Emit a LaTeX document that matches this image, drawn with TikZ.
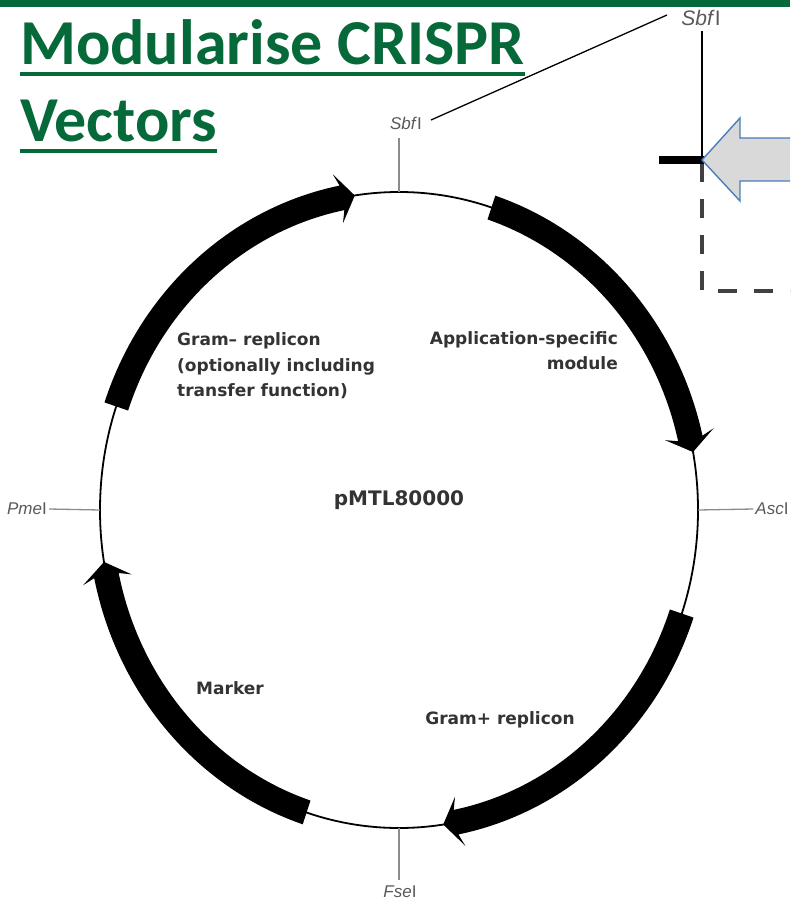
\documentclass[tikz,border=0pt]{standalone}
\usepackage{fontspec}
\setmainfont{Liberation Sans}
\newfontfamily\titlefont{Carlito}
\newfontfamily\labelfont{DejaVu Sans}
\usetikzlibrary{calc}
\definecolor{dgreen}{HTML}{05693A}
\definecolor{lblgray}{HTML}{333333}
\definecolor{sitegray}{HTML}{595959}
\definecolor{tickgray}{HTML}{8C8C8C}
\definecolor{arrfill}{HTML}{D9D9D9}
\definecolor{arrborder}{HTML}{4A7EBB}
\definecolor{dashgray}{HTML}{404040}
\tikzset{
  titletext/.style={font=\titlefont\bfseries\fontsize{64}{70}\selectfont, text=dgreen, inner sep=0pt},
  uline/.style={draw=dgreen, line width=3.5pt},
  featlabel/.style={font=\labelfont\bfseries\fontsize{17}{25.5}\selectfont, text=lblgray, inner sep=0pt},
  sitelabel/.style={font=\fontsize{17}{20}\selectfont, text=sitegray, inner sep=2pt},
  sitetick/.style={draw=tickgray, line width=1.3pt},
  backbone/.style={draw=black, line width=1.8pt},
  blockarrow/.style={fill=arrfill, draw=arrborder, line width=1.4pt, line join=miter},
  dashline/.style={draw=dashgray, line width=4pt, dash pattern=on 19pt off 17pt}
}
\def\pcx{399}
\def\pcy{510}
\def\prx{299}
\def\pry{318}
\def\phw{12.5}
\def\pbw{25}
% tail angle, base angle, tip angle (clockwise: decreasing)
\newcommand{\featarrow}[3]{%
  \fill[black] plot[domain=#1:#2, samples=50] ({\pcx+(\prx+\phw)*cos(\x)}, {\pcy-(\pry+\phw)*sin(\x)})
    -- ({\pcx+(\prx+\pbw)*cos(#2+0.8)}, {\pcy-(\pry+\pbw)*sin(#2+0.8)})
    -- ({\pcx+\prx*cos(#3)}, {\pcy-\pry*sin(#3)})
    -- ({\pcx+(\prx-\pbw)*cos(#2+0.8)}, {\pcy-(\pry-\pbw)*sin(#2+0.8)})
    -- plot[domain=#2:#1, samples=50] ({\pcx+(\prx-\phw)*cos(\x)}, {\pcy-(\pry-\phw)*sin(\x)})
    -- cycle;}
\begin{document}
\begin{tikzpicture}[x=1pt,y=-1pt]
\useasboundingbox (0,0) rectangle (790,901);
\clip (0,0) rectangle (790,901);
\fill[white] (0,0) rectangle (790,901);
% top bar
\fill[dgreen] (0,0) rectangle (790,7);
% title
\node[titletext, anchor=base west] (t1) at (20,65) {Modularise CRISPR};
\node[titletext, anchor=base west] (t2) at (20,142) {Vectors};
\draw[uline] ([yshift=-9pt]t1.base west) -- ([yshift=-9pt]t1.base east);
\draw[uline] ([yshift=-9pt]t2.base west) -- ([yshift=-9pt]t2.base east);

% plasmid backbone
\draw[backbone] (\pcx,\pcy) ellipse [x radius=\prx, y radius=\pry];
\coordinate (ptop) at (\pcx,{\pcy-\pry});
\coordinate (pbot) at (\pcx,{\pcy+\pry});
\coordinate (pleft) at ({\pcx-\prx},\pcy);
\coordinate (pright) at ({\pcx+\prx},\pcy);

% feature arrows
\featarrow{161}{101}{98.5}
\featarrow{72}{13}{10.5}
\featarrow{-19}{-79}{-81.5}
\featarrow{-108}{-168.1}{-170.6}

% feature labels
\node[featlabel, align=left, anchor=west] (gneg) at (177,366) {Gram\textendash{} replicon\\(optionally including\\transfer function)};
\node[featlabel, align=right, anchor=east] (app) at (618,350.5) {Application-specific\\module};
\node[featlabel, font=\labelfont\bfseries\fontsize{20}{24}\selectfont] (name) at (399,500) {pMTL80000};
\node[featlabel] (marker) at (230,688) {Marker};
\node[featlabel] (gpos) at (500,720) {Gram+ replicon};

% restriction sites
\node[sitelabel] (sbfs) at (406,123) {\textit{Sbf}I};
\node[sitelabel] (pme) at (27,509) {\textit{Pme}I};
\node[sitelabel] (asc) at (772,509) {\textit{Asc}I};
\node[sitelabel] (fse) at (400,892) {\textit{Fse}I};
\coordinate (sbftickTop) at (\pcx,138);
\coordinate (fsetickBot) at (\pcx,880);
\draw[sitetick] (sbftickTop) -- (ptop);
\draw[sitetick] (pbot) -- (fsetickBot);
\draw[sitetick] (pme.east) -- (pleft);
\draw[sitetick] (pright) -- (asc.west);

% zoomed-in site (top right)
\node[sitelabel, font=\fontsize{21}{24}\selectfont] (sbft) at (701,18) {\textit{Sbf}I};
\coordinate (diagA) at (431,120);
\coordinate (diagB) at (667,15);
\draw[black, line width=1.3pt] (diagA) -- (diagB);
\coordinate (junction) at (702,160);
\coordinate (vtop) at (702,31);
\draw[black, line width=1.5pt] (vtop) -- (junction);
\draw[dashline] (702,163) -- (702,291) -- (800,291);
\coordinate (barL) at (659,160);
\draw[black, line width=8pt] (barL) -- ([xshift=1.5pt]junction);
\draw[blockarrow] (junction) -- (740,118) -- (740,138) -- (800,138) -- (800,181) -- (740,181) -- (740,201) -- cycle;
\end{tikzpicture}
\end{document}
